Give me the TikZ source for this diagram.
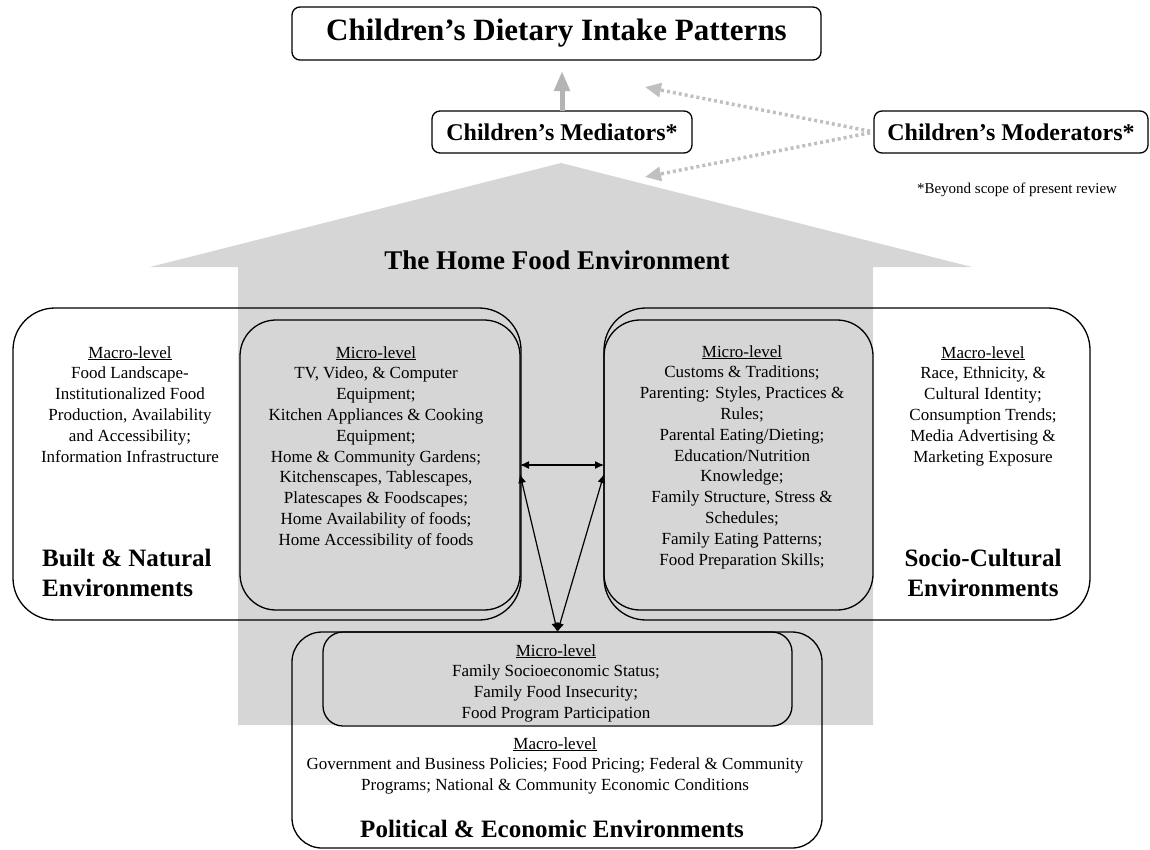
\documentclass[tikz,border=0pt]{standalone}
\usepackage{fontspec}
\setmainfont{Liberation Serif}
\usetikzlibrary{arrows.meta}

\definecolor{housegray}{RGB}{214,214,214}
\definecolor{arrowgray}{RGB}{180,180,180}
\definecolor{dotgray}{RGB}{192,192,192}

\tikzset{
	headbox/.style={draw, rounded corners=8pt, line width=1.3pt, inner sep=0pt, outer sep=0pt},
	envbox/.style={draw, rounded corners=42pt, line width=1.3pt, outer sep=0pt},
	levelbox/.style={draw, rounded corners=36pt, line width=1.3pt, outer sep=0pt},
	bodytext/.style={align=center, font=\fontsize{17}{20.8}\selectfont, inner sep=0pt, anchor=north},
	envlabel/.style={font=\fontsize{25}{30}\selectfont\bfseries, inner sep=0pt},
	linkarrow/.style={{Latex[length=9pt,width=8pt]}-{Latex[length=9pt,width=8pt]}, line width=1.2pt},
	medarrow/.style={-{Triangle[length=20pt,width=15pt]}, arrowgray, line width=5pt},
	modarrow/.style={-{Triangle[length=16pt,width=14pt]}, dotgray, line width=3.5pt, dash pattern=on 3pt off 3pt},
}

\begin{document}
\begin{tikzpicture}[x=1pt,y=-1pt]
		\clip (0,0) rectangle (1150,849);

		%house
		\fill[housegray] (150,267) -- (561,163) -- (972,267) -- (873,267) -- (873,725) -- (238,725) -- (238,267) -- cycle;
		\node[font=\fontsize{27}{32}\selectfont\bfseries] (home) at (557,260) {The Home Food Environment};

		%top
		\node[headbox, minimum width=529, minimum height=53, font=\fontsize{31}{36}\selectfont\bfseries] (intake) at (556.5,33.5) {Children's Dietary Intake Patterns};
		\node[headbox, minimum width=260, minimum height=42, font=\fontsize{24}{28}\selectfont\bfseries] (medi) at (562,132) {Children's Mediators*};
		\node[headbox, minimum width=274, minimum height=42, font=\fontsize{24}{28}\selectfont\bfseries] (modi) at (1011,132) {Children's Moderators*};
		\node[font=\fontsize{15}{18}\selectfont] (scope) at (1017,190) {*Beyond scope of present review};
		\coordinate (modtipA) at (645,87);
		\coordinate (modtipB) at (645,177);

		\draw[medarrow, shorten >=11pt] (medi.north) -- (medi.north |- intake.south);
		\draw[modarrow, shorten <=4pt] (modi.west) -- (modtipA);
		\draw[modarrow, shorten <=4pt] (modi.west) -- (modtipB);

		%built & natural
		\node[envbox, minimum width=508, minimum height=312] (bnmacro) at (267,464) {};
		\node[levelbox, minimum width=280, minimum height=290] (bnmicro) at (380,465) {};
		\node[bodytext] (bnmacrotext) at (130,346) {\underline{Macro-level}\\Food Landscape-\\Institutionalized Food\\Production, Availability\\and Accessibility;\\Information Infrastructure};
		\node[bodytext] (bnmicrotext) at (376,346) {\underline{Micro-level}\\TV, Video, \& Computer\\Equipment;\\Kitchen Appliances \& Cooking\\Equipment;\\Home \& Community Gardens;\\Kitchenscapes, Tablescapes,\\Platescapes \& Foodscapes;\\Home Availability of foods;\\Home Accessibility of foods};
		\node[envlabel, align=left, anchor=west] (bnlabel) at (42,573) {Built \& Natural\\Environments};

		%socio-cultural
		\node[envbox, minimum width=486, minimum height=312] (scmacro) at (847,464) {};
		\node[levelbox, minimum width=269, minimum height=290] (scmicro) at (738.5,465) {};
		\node[bodytext] (scmicrotext) at (742,345) {\underline{Micro-level}\\Customs \& Traditions;\\Parenting: Styles, Practices \&\\Rules;\\Parental Eating/Dieting;\\Education/Nutrition\\Knowledge;\\Family Structure, Stress \&\\Schedules;\\Family Eating Patterns;\\Food Preparation Skills;};
		\node[bodytext] (scmacrotext) at (983,346) {\underline{Macro-level}\\Race, Ethnicity, \&\\Cultural Identity;\\Consumption Trends;\\Media Advertising \&\\Marketing Exposure};
		\node[envlabel, align=center] (sclabel) at (983,573) {Socio-Cultural\\Environments};

		%political & economic
		\node[envbox, rounded corners=30pt, minimum width=530, minimum height=216] (pemacro) at (557,740) {};
		\node[levelbox, rounded corners=20pt, minimum width=469, minimum height=94] (pemicro) at (557.5,679) {};
		\node[bodytext] (pemicrotext) at (556,644) {\underline{Micro-level}\\Family Socioeconomic Status;\\Family Food Insecurity;\\Food Program Participation};
		\node[bodytext] (pemacrotext) at (555,737) {\underline{Macro-level}\\Government and Business Policies; Food Pricing; Federal \& Community\\Programs; National \& Community Economic Conditions};
		\node[envlabel] (pelabel) at (552,829) {Political \& Economic Environments};

		%links
		\draw[linkarrow] (bnmicro.east) -- (scmicro.west);
		\draw[linkarrow] ([yshift=-9pt]bnmicro.east) -- (pemicro.north);
		\draw[linkarrow] ([yshift=-9pt]scmicro.west) -- (pemicro.north);

	\end{tikzpicture}
\end{document}
